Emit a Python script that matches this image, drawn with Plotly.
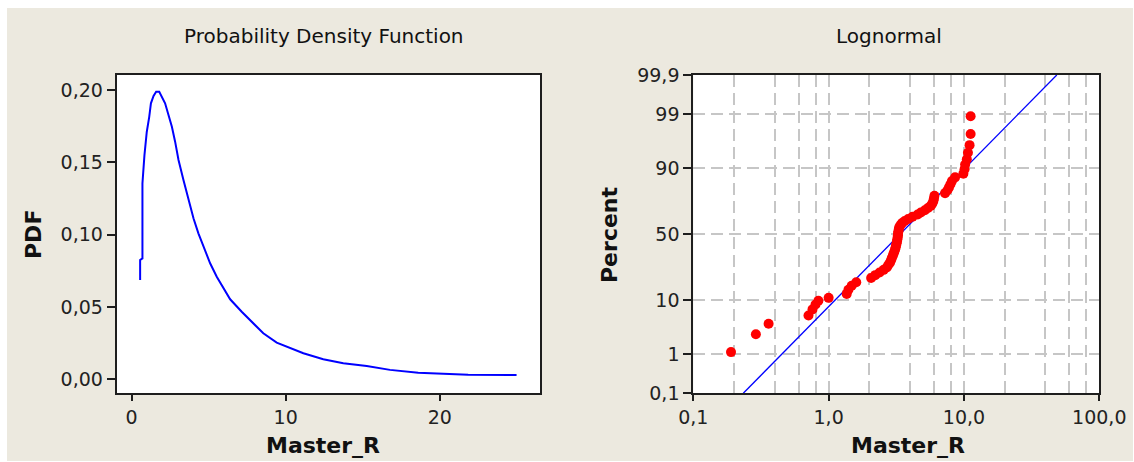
import plotly.graph_objects as go
from statistics import NormalDist

W, H = 1134, 462

# ---- Left panel: fitted lognormal PDF ----
pdf_x = [0.56, 0.56, 0.71, 0.71, 0.84, 0.99, 1.15, 1.26, 1.43, 1.60, 1.80, 1.97,
         2.18, 2.40, 2.62, 2.83, 3.05, 3.37, 3.69, 4.02, 4.34, 4.78, 5.10, 5.53,
         5.96, 6.40, 7.15, 7.91, 8.55, 9.42, 10.28, 11.15, 12.44, 13.74, 15.26,
         16.77, 18.6, 21.84, 24.98]
pdf_y = [0.0686, 0.0825, 0.0836, 0.1355, 0.155, 0.171, 0.1815, 0.1908, 0.1959,
         0.1988, 0.1988, 0.1955, 0.1908, 0.1827, 0.1746, 0.1643, 0.1516, 0.1378,
         0.1240, 0.1113, 0.1009, 0.0894, 0.0802, 0.0709, 0.0629, 0.0553, 0.0467,
         0.0387, 0.0318, 0.0253, 0.0214, 0.0180, 0.0138, 0.0111, 0.0092, 0.0065,
         0.0045, 0.0032, 0.0030]

# ---- Right panel: lognormal probability plot ----
prob_x = [0.19, 0.29, 0.36, 0.71, 0.76, 0.80, 0.84, 1.00, 1.36, 1.40, 1.48, 1.60,
          2.06, 2.21, 2.38, 2.55, 2.69, 2.76, 2.84, 2.89, 2.93, 2.98, 3.02, 3.06,
          3.10, 3.13, 3.15, 3.18, 3.20, 3.22, 3.24, 3.25, 3.26, 3.28, 3.30, 3.33,
          3.40, 3.49, 3.65, 3.87, 4.17, 4.55, 4.80, 5.14, 5.42, 5.70, 5.85, 5.95,
          6.00, 6.05, 7.25, 7.55, 7.75, 7.95, 8.15, 8.60, 9.90, 10.1, 10.2, 10.5,
          10.7, 11.0, 11.2, 11.2]
prob_pct = [1.1, 2.6, 4.1, 5.7, 7.2, 8.6, 9.8, 10.8, 12.3, 14.0, 15.8, 17.5,
            19.7, 21.3, 22.8, 24.4, 25.9, 27.5, 29.0, 30.6, 32.1, 33.7, 35.3, 36.8,
            38.4, 39.9, 41.5, 43.0, 44.6, 46.1, 47.7, 49.2, 50.8, 52.3, 53.9, 55.4,
            57.0, 58.5, 60.1, 61.6, 63.2, 64.8, 66.3, 67.9, 69.4, 71.0, 72.5, 74.1,
            75.6, 77.2, 78.7, 80.3, 81.8, 83.4, 84.9, 86.5, 88.0, 89.6, 91.2, 92.7,
            94.3, 95.8, 97.4, 98.9]
fit_x = [0.234, 48.5]
fit_pct = [0.1, 99.9]

pdf_xticks = [0, 10, 20]
pdf_yticks = [0.00, 0.05, 0.10, 0.15, 0.20]
pdf_yticktext = ["0,00", "0,05", "0,10", "0,15", "0,20"]
prob_xticks = [0.1, 1, 10, 100]
prob_xticktext = ["0,1", "1,0", "10,0", "100,0"]
prob_xgrid = [0.2, 0.4, 0.6, 0.8, 2, 4, 6, 8, 20, 40, 60, 80]
prob_ypct_ticks = [0.1, 1, 10, 50, 90, 99, 99.9]
prob_yticktext = ["0,1", "1", "10", "50", "90", "99", "99,9"]

nd = NormalDist()
def probit(p):
    return nd.inv_cdf(p / 100.0)

BG = "#ECE9DF"
FRAME = "#1E1E1E"
GRID = "#C6C6C6"
FONT = "DejaVu Sans"

fig = go.Figure()
fig.add_trace(go.Scatter(x=pdf_x, y=pdf_y, mode="lines",
                         line=dict(color="#0000FF", width=2),
                         xaxis="x", yaxis="y", showlegend=False))
fig.add_trace(go.Scatter(x=fit_x, y=[probit(p) for p in fit_pct], mode="lines",
                         line=dict(color="#0000FF", width=1.3),
                         xaxis="x2", yaxis="y2", showlegend=False))
fig.add_trace(go.Scatter(x=prob_x, y=[probit(p) for p in prob_pct], mode="markers",
                         marker=dict(color="#FF0000", size=10, line=dict(width=0)),
                         xaxis="x2", yaxis="y2", showlegend=False))

tickfont = dict(family=FONT, size=19, color="#222222")
ydom = [(H - 393.3) / H, (H - 75) / H]

common = dict(showline=True, mirror=True, linecolor=FRAME, linewidth=2,
              ticks="outside", tickcolor=FRAME, tickwidth=1.5,
              tickfont=tickfont, zeroline=False, fixedrange=True,
              automargin=False)

fig.update_layout(
    width=W, height=H, autosize=False,
    margin=dict(l=0, r=0, t=0, b=0, pad=0),
    paper_bgcolor=BG, plot_bgcolor="#FFFFFF",
    xaxis=dict(domain=[116.7 / W, 540 / W], range=[-0.96, 26.5],
               tickmode="array", tickvals=pdf_xticks, ticklen=6,
               showgrid=False, anchor="y", **common),
    yaxis=dict(domain=ydom, range=[-0.0097, 0.2104],
               tickmode="array", tickvals=pdf_yticks, ticktext=pdf_yticktext,
               ticklen=8, showgrid=False, anchor="x", **common),
    xaxis2=dict(domain=[693.3 / W, 1099.3 / W], type="log", range=[-1, 2],
                tickmode="array", tickvals=prob_xticks, ticktext=prob_xticktext,
                ticklen=6, showgrid=True, gridcolor=GRID, gridwidth=2,
                griddash="12px,6px",
                minor=dict(tickmode="array", tickvals=prob_xgrid, ticks="",
                           showgrid=True, gridcolor=GRID, gridwidth=2,
                           griddash="12px,6px"),
                anchor="y2", **common),
    yaxis2=dict(domain=ydom, range=[probit(0.1), probit(99.9)],
                tickmode="array", tickvals=[probit(p) for p in prob_ypct_ticks],
                ticktext=prob_yticktext, ticklen=8,
                showgrid=True, gridcolor=GRID, gridwidth=2, griddash="12px,6px",
                anchor="x2", **common),
)

# white border strips around the beige panel
for x0, x1, y0, y1 in [(0, 1, 1 - 8 / H, 1), (0, 7 / W, 0, 1),
                       (0, 1, 0, 1 / H), (1133 / W, 1, 0, 1)]:
    fig.add_shape(type="rect", xref="paper", yref="paper", x0=x0, x1=x1,
                  y0=y0, y1=y1, fillcolor="#FFFFFF", line=dict(width=0),
                  layer="below")

def ann(text, px, py, size, bold=False, angle=0):
    fig.add_annotation(text=("<b>%s</b>" % text) if bold else text,
                       x=px / W, y=1 - py / H, xref="paper", yref="paper",
                       xanchor="center", yanchor="middle", showarrow=False,
                       textangle=angle,
                       font=dict(family=FONT, size=size, color="#111111"))

ann("Probability Density Function", 323.5, 36.5, 20)
ann("Lognormal", 889, 36.5, 20)
ann("Master_R", 323, 445, 22, bold=True)
ann("Master_R", 908, 445, 22, bold=True)
ann("PDF", 33, 235, 22, bold=True, angle=-90)
ann("Percent", 609, 235, 22, bold=True, angle=-90)

fig.write_html("out.html")
